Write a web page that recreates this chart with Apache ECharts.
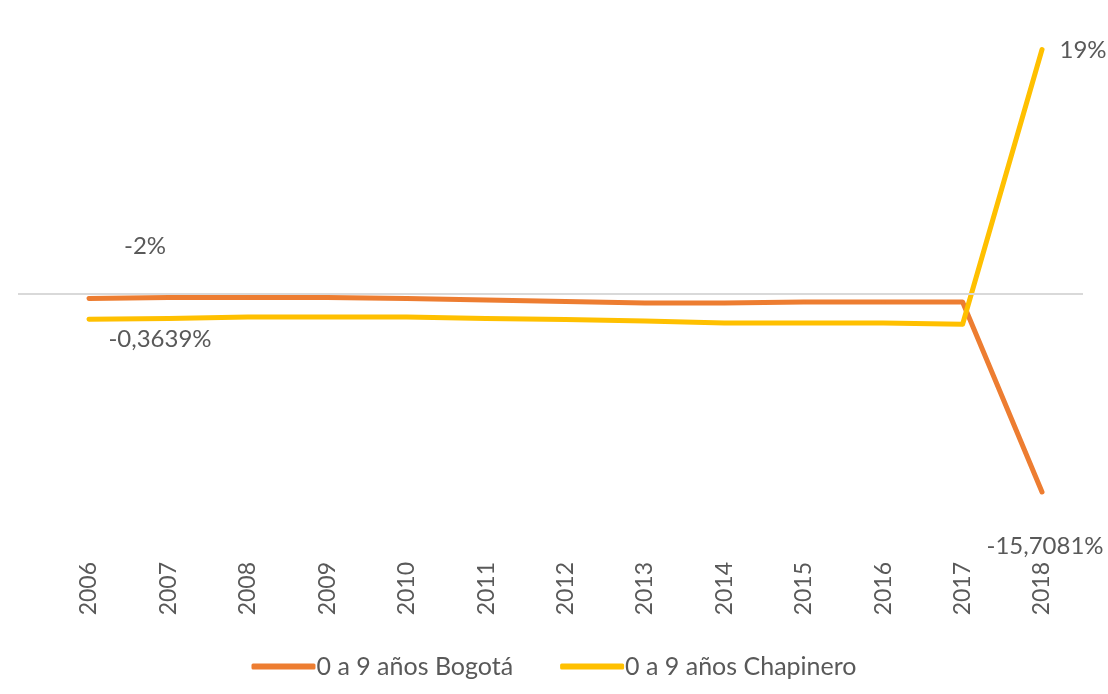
<!DOCTYPE html>
<html>
<head>
<meta charset="utf-8">
<script src="https://cdn.jsdelivr.net/npm/echarts@6/dist/echarts.min.js"></script>
<style>
html,body{margin:0;padding:0;background:#fff;}
#c{width:1108px;height:694px;}
</style>
</head>
<body>
<div id="c"></div>
<script>
const years = [2006,2007,2008,2009,2010,2011,2012,2013,2014,2015,2016,2017,2018];
const bogota = [-0.3639,-0.28,-0.28,-0.28,-0.36,-0.48,-0.60,-0.72,-0.72,-0.64,-0.64,-0.64,-15.7081];
const chapinero = [-2.0,-1.95,-1.83,-1.83,-1.83,-1.95,-2.03,-2.14,-2.30,-2.30,-2.30,-2.40,19.4];
const bogotaLabels = {0:'-0,3639%', 12:'-15,7081%'};
const chapineroLabels = {0:'-2%', 12:'19%'};
const seriesNames = ['0 a 9 años Bogotá','0 a 9 años Chapinero'];

const FONT = 'Lato';
const labelBase = {show:true, color:'#595959', fontFamily:FONT, fontSize:24};

function buildData(vals, labels, labelPos){
  return vals.map((v,i)=>{
    const item = {value:[years[i], v]};
    if (labels[i] !== undefined) {
      item.label = Object.assign({}, labelBase, {formatter: labels[i]}, labelPos[i]);
    }
    return item;
  });
}

const chart = echarts.init(document.getElementById('c'));
chart.setOption({
  backgroundColor:'#ffffff',
  animation:false,
  grid:{left:18, right:25, top:42, bottom:148},
  xAxis:{
    type:'value', min:2005.106, max:2018.516,
    axisLine:{show:false}, axisTick:{show:false}, splitLine:{show:false},
    axisLabel:{customValues:years, rotate:90, margin:16, color:'#595959', fontFamily:FONT, fontSize:23, formatter:v=>String(v)}
  },
  yAxis:{type:'value', min:-20, max:20, show:false, splitLine:{show:false}},
  legend:{
    bottom:10, left:'center', itemGap:47, itemWidth:64, itemHeight:6, icon:'roundRect',
    textStyle:{color:'#595959', fontFamily:FONT, fontSize:25, padding:[0,0,0,-4]},
    data:seriesNames
  },
  series:[{
    name:seriesNames[0], type:'line',
    symbol:'circle', symbolSize:4, showSymbol:true,
    lineStyle:{color:'#ED7D31', width:5, cap:'round', join:'round'},
    itemStyle:{color:'#ED7D31'},
    label:{show:false},
    data:buildData(bogota, bogotaLabels, {0:{position:'inside', offset:[71,41]}, 12:{position:'inside', offset:[3,54]}}),
    markLine:{
      silent:true, symbol:['none','none'], label:{show:false},
      lineStyle:{color:'#d9d9d9', width:2, type:'solid'},
      data:[{yAxis:0}]
    },
    z:3
  },{
    name:seriesNames[1], type:'line',
    symbol:'circle', symbolSize:4, showSymbol:true,
    lineStyle:{color:'#FFC000', width:5, cap:'round', join:'round'},
    itemStyle:{color:'#FFC000'},
    label:{show:false},
    data:buildData(chapinero, chapineroLabels, {0:{position:'inside', offset:[56,-73]}, 12:{position:'inside', offset:[41,1]}}),
    z:4
  }]
});
</script>
</body>
</html>
